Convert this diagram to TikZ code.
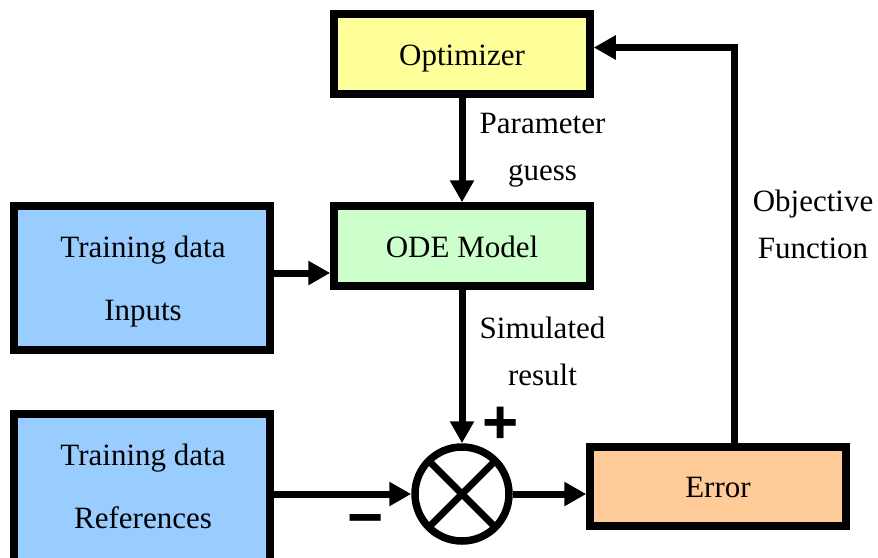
\documentclass[tikz,border=0pt]{standalone}
\usepackage{fontspec}
\setmainfont{Liberation Serif}
\newfontfamily\signfont{Liberation Sans}
\usetikzlibrary{arrows.meta}
\definecolor{optfill}{HTML}{FFFF99}
\definecolor{odefill}{HTML}{CCFFCC}
\definecolor{datafill}{HTML}{99CCFF}
\definecolor{errfill}{HTML}{FFCC99}
\begin{document}
\begin{tikzpicture}[x=1pt,y=-1pt,
  box/.style={draw=black, line width=7.5pt, rectangle, inner sep=0pt, minimum width=256pt},
  txt/.style={font=\fontsize{31}{37}\selectfont, inner sep=0pt, anchor=base},
  link/.style={line width=7pt, line join=miter, -{Triangle[length=22pt,width=23pt]}},
  sign/.style={font=\signfont\bfseries\fontsize{62}{62}\selectfont, inner sep=0pt}]
\useasboundingbox (0,0) rectangle (878,557);

% blocks
\node[box, fill=optfill, minimum height=80pt] (opt) at (462,54) {};
\node[box, fill=odefill, minimum height=80pt] (ode) at (462,246) {};
\node[box, fill=datafill, minimum height=144pt] (inp) at (142,278) {};
\node[box, fill=datafill, minimum height=148pt] (ref) at (142,488) {};
\node[box, fill=errfill, minimum height=79pt] (err) at (718,486.5) {};
\node[draw, circle, line width=7.5pt, minimum size=94pt, inner sep=0pt] (sum) at (462,494) {};
\draw[line width=7pt] (sum.center) +(45:47) -- +(225:47);
\draw[line width=7pt] (sum.center) +(135:47) -- +(315:47);

% block texts
\node[txt] (optT) at (462,65) {Optimizer};
\node[txt] (odeT) at (462,257) {ODE Model};
\node[txt] (inpA) at (143,257) {Training data};
\node[txt] (inpB) at (143,320) {Inputs};
\node[txt] (refA) at (143,465) {Training data};
\node[txt] (refB) at (143,528) {References};
\node[txt] (errT) at (718,497) {Error};

% connector labels
\node[txt] (pgA) at (542.5,133) {Parameter};
\node[txt] (pgB) at (542.5,180) {guess};
\node[txt] (srA) at (542.5,338) {Simulated};
\node[txt] (srB) at (542.5,385) {result};
\node[txt] (ofA) at (813,211) {Objective};
\node[txt] (ofB) at (813,258) {Function};

% signs at the summing junction
\node[sign] (plus) at (501,425) {+};
\node[sign] (minus) at (366,526.5) {−};

% connectors
\coordinate (inrow) at (300,273);
\coordinate (turn) at (734,47.5);
\draw[link] (opt) -- (ode);
\draw[link] (ode) -- (sum);
\draw[link] (inp.east |- inrow) -- (ode.west |- inrow);
\draw[link] (ref.east |- sum.west) -- (sum.west);
\draw[link] (sum.east) -- (err.west |- sum.east);
\draw[link] (err.north -| turn) -- (turn) -- (opt.east |- turn);
\end{tikzpicture}
\end{document}
